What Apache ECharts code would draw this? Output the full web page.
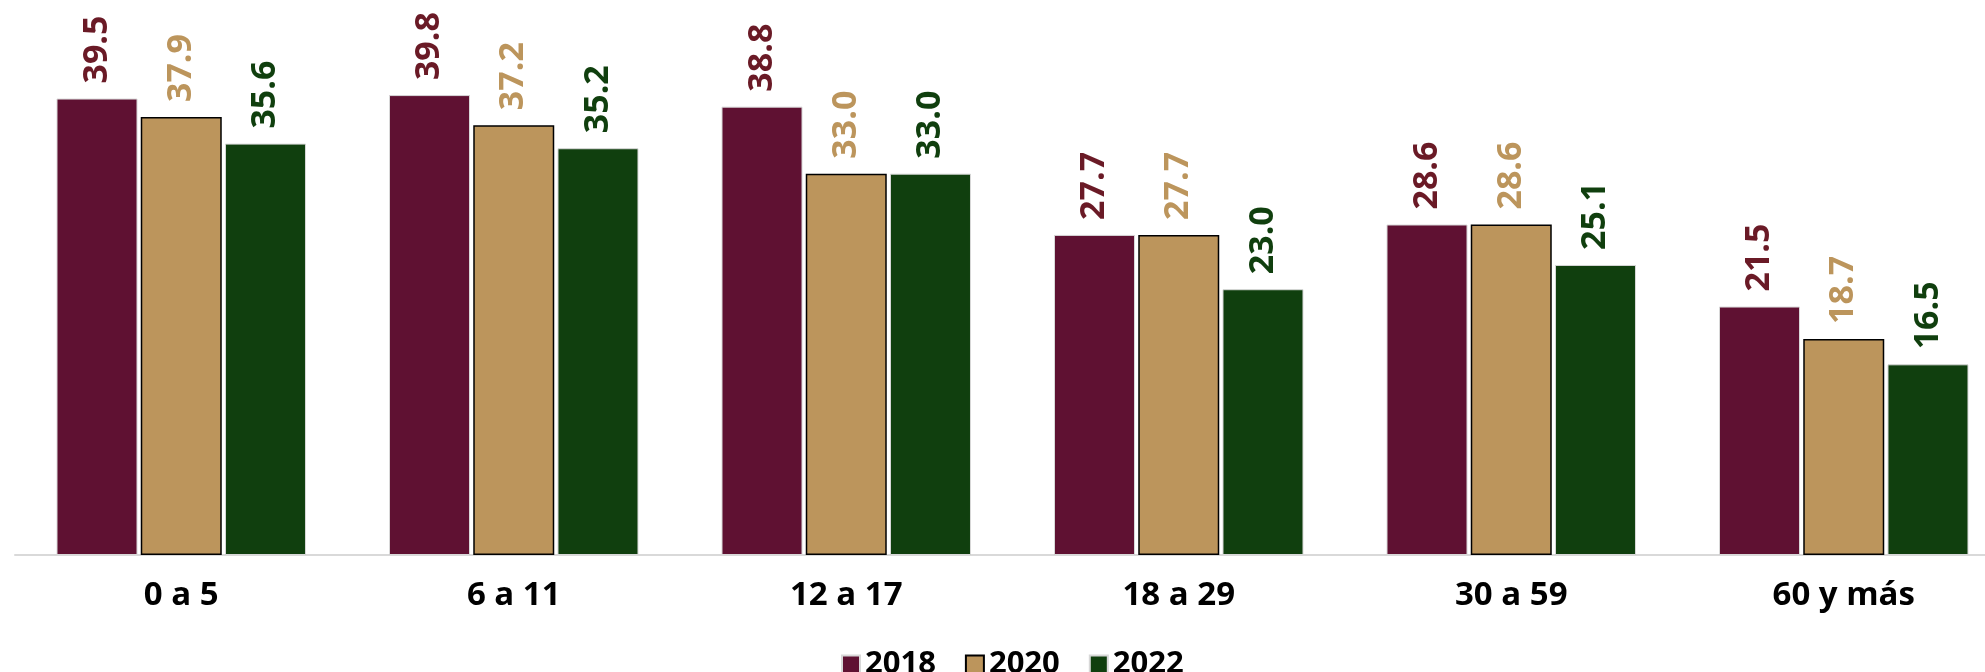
<!DOCTYPE html>
<html><head><meta charset="utf-8">
<script src="https://cdn.jsdelivr.net/npm/echarts@6/dist/echarts.min.js"></script>
<style>html,body{margin:0;padding:0;background:#fff}#c{width:1985px;height:672px}</style>
</head><body><div id="c"></div>
<script>
const categories = ['0 a 5', '6 a 11', '12 a 17', '18 a 29', '30 a 59', '60 y más'];
const seriesNames = ['2018', '2020', '2022'];
const v2018 = [39.5, 39.8, 38.8, 27.7, 28.6, 21.5];
const v2020 = [37.9, 37.2, 33.0, 27.7, 28.6, 18.7];
const v2022 = [35.6, 35.2, 33.0, 23.0, 25.1, 16.5];

const FONT = '"Open Sans", sans-serif';
const barColors = ['#5F1132', '#BC955C', '#103F0E'];
const labelColors = ['#6A1A26', '#BC955C', '#103F0E'];
const borders = [{c:'#d8d8d8', w:1}, {c:'#000', w:1.5}, {c:'#d8d8d8', w:1}];
const vals = [v2018, v2020, v2022];

const chart = echarts.init(document.getElementById('c'));
chart.setOption({
  animation: false,
  grid: {left: 15, width: 1995, top: 35, bottom: 117, containLabel: false, outerBoundsMode: 'none'},
  legend: {
    left: 836, top: 644, itemWidth: 18, itemHeight: 18, itemGap: 29,
    icon: 'rect',
    textStyle: {fontFamily: FONT, fontWeight: 'bold', fontSize: 31, color: '#000'},
    data: seriesNames
  },
  xAxis: {
    type: 'category', data: categories,
    axisLine: {lineStyle: {color: '#d9d9d9', width: 2}},
    axisTick: {show: false},
    axisLabel: {fontFamily: FONT, fontWeight: 'bold', fontSize: 33, color: '#000', margin: 24}
  },
  yAxis: {type: 'value', min: 0, max: 45, show: false, splitLine: {show: false}},
  series: vals.map((d, i) => ({
    name: seriesNames[i], type: 'bar', data: d,
    barWidth: 81, barGap: '4%',
    itemStyle: {color: barColors[i], borderColor: borders[i].c, borderWidth: borders[i].w},
    label: {
      show: true, position: 'top', rotate: 90, align: 'left', verticalAlign: 'middle', distance: 15,
      formatter: p => p.value.toFixed(1),
      fontFamily: FONT, fontWeight: 'bold', fontSize: 34, color: labelColors[i]
    }
  }))
});
</script></body></html>
